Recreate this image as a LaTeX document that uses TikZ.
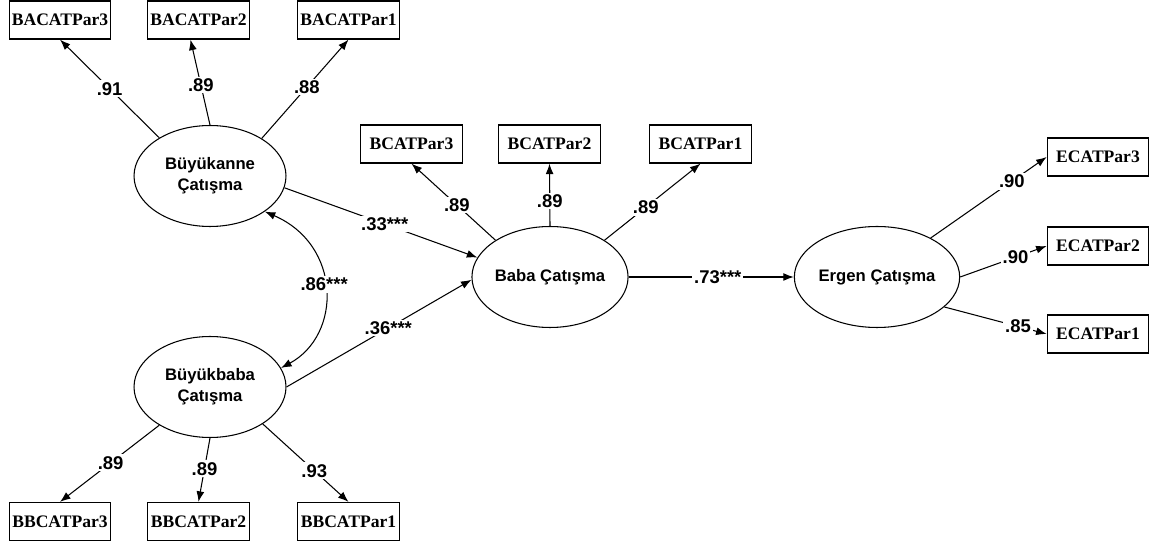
\documentclass[tikz,border=0pt]{standalone}
\usepackage{fontspec}
\setmainfont{Liberation Serif}
\setsansfont{Liberation Sans}
\usetikzlibrary{shapes.geometric,arrows.meta,calc}
\begin{document}
\begin{tikzpicture}[x=0.02cm,y=-0.02cm,
  lat/.style={draw,ellipse,line width=0.6pt,minimum width=3.04cm,minimum height=2.02cm,inner sep=0pt,align=center,font=\sffamily\bfseries\fontsize{9.5}{12}\selectfont},
  obs/.style={draw,rectangle,line width=0.7pt,minimum width=2.03cm,minimum height=0.76cm,inner sep=0pt,font=\rmfamily\bfseries\fontsize{10}{12}\selectfont},
  arr/.style={line width=0.6pt,-{Latex[length=6pt,width=4.5pt]}},
  dbl/.style={line width=0.6pt,{Latex[length=6pt,width=4.5pt]}-{Latex[length=6pt,width=4.5pt]}},
  lab/.style={fill=white,inner sep=1pt,font=\sffamily\bfseries\fontsize{10.5}{12}\selectfont}
]
\useasboundingbox[fill=white] (0,0) rectangle (1158,546);

% observed boxes
\node[obs] (b3) at (60,20) {BACATPar3};
\node[obs] (b2) at (198.5,20) {BACATPar2};
\node[obs] (b1) at (348.5,20) {BACATPar1};
\node[obs] (bb3) at (60,521.5) {BBCATPar3};
\node[obs] (bb2) at (198.5,521.5) {BBCATPar2};
\node[obs] (bb1) at (348.5,521.5) {BBCATPar1};
\node[obs] (bp3) at (411.5,144) {BCATPar3};
\node[obs] (bp2) at (549.5,144) {BCATPar2};
\node[obs] (bp1) at (700.5,144) {BCATPar1};
\node[obs] (e3) at (1098,157) {ECATPar3};
\node[obs] (e2) at (1098,246) {ECATPar2};
\node[obs] (e1) at (1098,334) {ECATPar1};

% latent ellipses
\node[lat] (bk) at (210,176) {Büyükanne\\Çatışma};
\node[lat] (bb) at (210,387) {Büyükbaba\\Çatışma};
\node[lat] (ba) at (550,277) {Baba Çatışma};
\node[lat] (er) at (877,277) {Ergen Çatışma};

% loadings
\draw[arr] (bk.143) -- (b3.south) node[lab,pos=0.5]{.91};
\draw[arr] (bk.north) -- ($(b2.south)+(-8,0)$) node[lab,pos=0.47]{.89};
\draw[arr] (bk.36) -- (b1.south) node[lab,pos=0.52]{.88};

\draw[arr] (bb.217) -- (bb3.north) node[lab,pos=0.49]{.89};
\draw[arr] (bb.south) -- (bb2.north) node[lab,pos=0.48]{.89};
\draw[arr] (bb.325) -- (bb1.north) node[lab,pos=0.6]{.93};

\draw[arr] (ba.146) -- (bp3.south) node[lab,pos=0.46]{.89};
\draw[arr] (ba.north) -- (bp2.south) node[lab,pos=0.4]{.89};
\draw[arr] (ba.34) -- (bp1.south) node[lab,pos=0.43]{.89};

\draw[arr] (er.36) -- (e3.west) node[lab,pos=0.7]{.90};
\draw[arr] (er.east) -- (e2.west) node[lab,pos=0.64]{.90};
\draw[arr] (er.-24) -- (e1.west) node[lab,pos=0.72]{.85};

% structural paths
\draw[arr] (bk.-9) -- (ba.165) node[lab,pos=0.52]{.33***};
\draw[arr] (bb.east) -- (ba.182) node[lab,pos=0.55]{.36***};
\draw[arr] (ba.east) -- (er.west) node[lab,pos=0.54]{.73***};
\draw[dbl] (bk.-33) .. controls (342,245) and (342,335) .. (bb.15) node[lab,pos=0.47]{.86***};
\end{tikzpicture}
\end{document}
